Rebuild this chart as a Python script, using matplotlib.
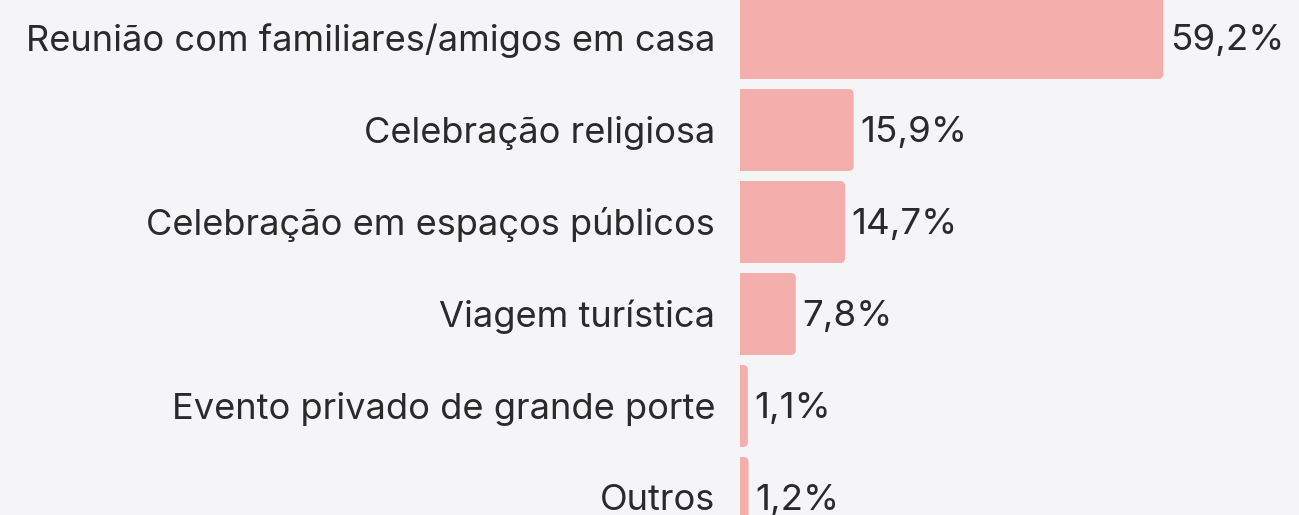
import matplotlib.pyplot as plt
from matplotlib.patches import FancyBboxPatch, Rectangle

categorias = ['Reunião com familiares/amigos em casa', 'Celebração religiosa',
              'Celebração em espaços públicos', 'Viagem turística',
              'Evento privado de grande porte', 'Outros']
valores = [59.2, 15.9, 14.7, 7.8, 1.1, 1.2]
rotulos = ['59,2%', '15,9%', '14,7%', '7,8%', '1,1%', '1,2%']

bg = '#f5f5f7'
cor_barra = '#f4afac'
cor_texto = '#2a2a2a'

fig = plt.figure(figsize=(12.99, 5.15), dpi=100, facecolor=bg)
ax = fig.add_axes([740 / 1299, 0, 559 / 1299, 1])
ax.set_facecolor(bg)
ax.set_xlim(0, 559 / 7.15)
ax.set_ylim((515 - 38) / 92, -38 / 92)

h = 82 / 92
rx = 5 / 7.15
ry = 5 / 92
for i, v in enumerate(valores):
    p = FancyBboxPatch((0, i - h / 2), v, h,
                       boxstyle=f'round,pad=0,rounding_size={rx}',
                       mutation_aspect=ry / rx,
                       fc=cor_barra, ec='none')
    ax.add_patch(p)
    ax.add_patch(Rectangle((0, i - h / 2), min(v / 2, rx), h, fc=cor_barra, ec='none'))
    ax.text(v + 0.9, i + 0.03, rotulos[i], va='center', ha='left',
            fontsize=26.5, color=cor_texto, family='Inter')
    ax.text(-25 / 7.15, i + 0.03, categorias[i], va='center', ha='right',
            fontsize=26.1, color=cor_texto, family='Inter', clip_on=False)

ax.axis('off')
fig.savefig('out.png', dpi=100, facecolor=bg)
